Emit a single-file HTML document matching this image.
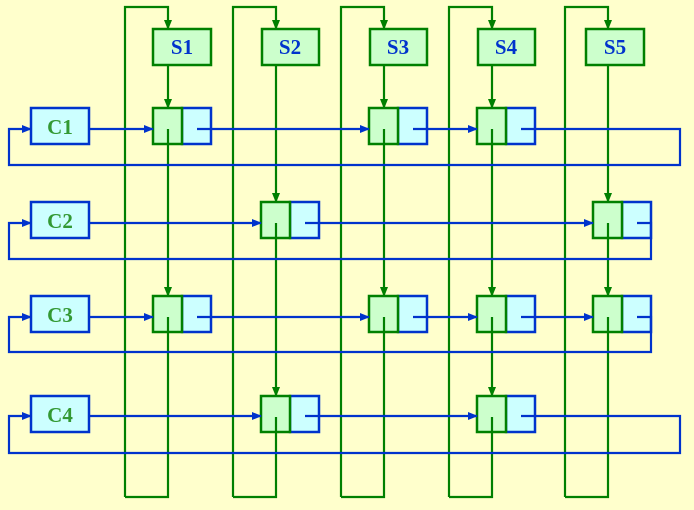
<!DOCTYPE html>
<html><head><meta charset="utf-8"><style>
html,body{margin:0;padding:0;background:#ffffcc;}
svg{display:block;}
text{font-family:"Liberation Serif",serif;font-weight:bold;font-size:21px;}
</style></head><body>
<svg width="694" height="510" viewBox="0 0 694 510" xmlns="http://www.w3.org/2000/svg">
<defs>
<marker id="ag" markerWidth="10" markerHeight="10" refX="9" refY="5" orient="auto" markerUnits="userSpaceOnUse"><path d="M0,1 L10,5 L0,9 Z" fill="#008000"/></marker>
<marker id="ab" markerWidth="10" markerHeight="10" refX="9" refY="5" orient="auto" markerUnits="userSpaceOnUse"><path d="M0,1 L10,5 L0,9 Z" fill="#0033cc"/></marker>
</defs>
<rect width="694" height="510" fill="#ffffcc"/>
<!-- S boxes -->
<g fill="#ccffcc" stroke="#008000" stroke-width="2.5">
<rect x="153" y="29" width="58" height="36"/>
<rect x="262" y="29" width="57" height="36"/>
<rect x="370" y="29" width="57" height="36"/>
<rect x="478" y="29" width="57" height="36"/>
<rect x="586" y="29" width="58" height="36"/>
</g>
<g fill="#0033cc" text-anchor="middle">
<text x="182" y="54">S1</text><text x="290" y="54">S2</text><text x="398" y="54">S3</text><text x="506" y="54">S4</text><text x="615" y="54">S5</text>
</g>
<!-- C boxes -->
<g fill="#ccffff" stroke="#0033cc" stroke-width="2.5">
<rect x="31" y="108" width="58" height="36"/>
<rect x="31" y="202" width="58" height="36"/>
<rect x="31" y="296" width="58" height="36"/>
<rect x="31" y="396" width="58" height="36"/>
</g>
<g fill="#339933" text-anchor="middle">
<text x="60" y="134">C1</text><text x="60" y="228">C2</text><text x="60" y="322">C3</text><text x="60" y="422">C4</text>
</g>
<!-- nodes -->
<g stroke-width="2.5">
<!-- row1 -->
<rect x="182" y="108" width="29" height="36" fill="#ccffff" stroke="#0033cc"/><rect x="153" y="108" width="29" height="36" fill="#ccffcc" stroke="#008000"/>
<rect x="398" y="108" width="29" height="36" fill="#ccffff" stroke="#0033cc"/><rect x="369" y="108" width="29" height="36" fill="#ccffcc" stroke="#008000"/>
<rect x="506" y="108" width="29" height="36" fill="#ccffff" stroke="#0033cc"/><rect x="477" y="108" width="29" height="36" fill="#ccffcc" stroke="#008000"/>
<!-- row2 -->
<rect x="290" y="202" width="29" height="36" fill="#ccffff" stroke="#0033cc"/><rect x="261" y="202" width="29" height="36" fill="#ccffcc" stroke="#008000"/>
<rect x="622" y="202" width="29" height="36" fill="#ccffff" stroke="#0033cc"/><rect x="593" y="202" width="29" height="36" fill="#ccffcc" stroke="#008000"/>
<!-- row3 -->
<rect x="182" y="296" width="29" height="36" fill="#ccffff" stroke="#0033cc"/><rect x="153" y="296" width="29" height="36" fill="#ccffcc" stroke="#008000"/>
<rect x="398" y="296" width="29" height="36" fill="#ccffff" stroke="#0033cc"/><rect x="369" y="296" width="29" height="36" fill="#ccffcc" stroke="#008000"/>
<rect x="506" y="296" width="29" height="36" fill="#ccffff" stroke="#0033cc"/><rect x="477" y="296" width="29" height="36" fill="#ccffcc" stroke="#008000"/>
<rect x="622" y="296" width="29" height="36" fill="#ccffff" stroke="#0033cc"/><rect x="593" y="296" width="29" height="36" fill="#ccffcc" stroke="#008000"/>
<!-- row4 -->
<rect x="290" y="396" width="29" height="36" fill="#ccffff" stroke="#0033cc"/><rect x="261" y="396" width="29" height="36" fill="#ccffcc" stroke="#008000"/>
<rect x="506" y="396" width="29" height="36" fill="#ccffff" stroke="#0033cc"/><rect x="477" y="396" width="29" height="36" fill="#ccffcc" stroke="#008000"/>
</g>
<!-- green column lines -->
<g fill="none" stroke="#008000" stroke-width="2.2">
<path d="M125,497 V7 H168 V29" marker-end="url(#ag)"/>
<path d="M168,65 V108" marker-end="url(#ag)"/>
<path d="M168,129 V296" marker-end="url(#ag)"/>
<path d="M168,317 V497 H125"/>
<path d="M233,497 V7 H276 V29" marker-end="url(#ag)"/>
<path d="M276,65 V202" marker-end="url(#ag)"/>
<path d="M276,223 V396" marker-end="url(#ag)"/>
<path d="M276,417 V497 H233"/>
<path d="M341,497 V7 H384 V29" marker-end="url(#ag)"/>
<path d="M384,65 V108" marker-end="url(#ag)"/>
<path d="M384,129 V296" marker-end="url(#ag)"/>
<path d="M384,317 V497 H341"/>
<path d="M449,497 V7 H492 V29" marker-end="url(#ag)"/>
<path d="M492,65 V108" marker-end="url(#ag)"/>
<path d="M492,129 V296" marker-end="url(#ag)"/>
<path d="M492,317 V396" marker-end="url(#ag)"/>
<path d="M492,417 V497 H449"/>
<path d="M565,497 V7 H608 V29" marker-end="url(#ag)"/>
<path d="M608,65 V202" marker-end="url(#ag)"/>
<path d="M608,223 V296" marker-end="url(#ag)"/>
<path d="M608,317 V497 H565"/>
</g>
<!-- blue row lines -->
<g fill="none" stroke="#0033cc" stroke-width="2.2">
<path d="M89,129 H153" marker-end="url(#ab)"/>
<path d="M197,129 H369" marker-end="url(#ab)"/>
<path d="M413,129 H477" marker-end="url(#ab)"/>
<path d="M521,129 H680 V165 H9 V129 H31" marker-end="url(#ab)"/>
<path d="M89,223 H261" marker-end="url(#ab)"/>
<path d="M305,223 H593" marker-end="url(#ab)"/>
<path d="M637,223 H651 V259 H9 V223 H31" marker-end="url(#ab)"/>
<path d="M89,317 H153" marker-end="url(#ab)"/>
<path d="M197,317 H369" marker-end="url(#ab)"/>
<path d="M413,317 H477" marker-end="url(#ab)"/>
<path d="M521,317 H593" marker-end="url(#ab)"/>
<path d="M637,317 H651 V352 H9 V317 H31" marker-end="url(#ab)"/>
<path d="M89,416 H261" marker-end="url(#ab)"/>
<path d="M305,416 H477" marker-end="url(#ab)"/>
<path d="M521,416 H680 V453 H9 V416 H31" marker-end="url(#ab)"/>
</g>
</svg>
</body></html>
